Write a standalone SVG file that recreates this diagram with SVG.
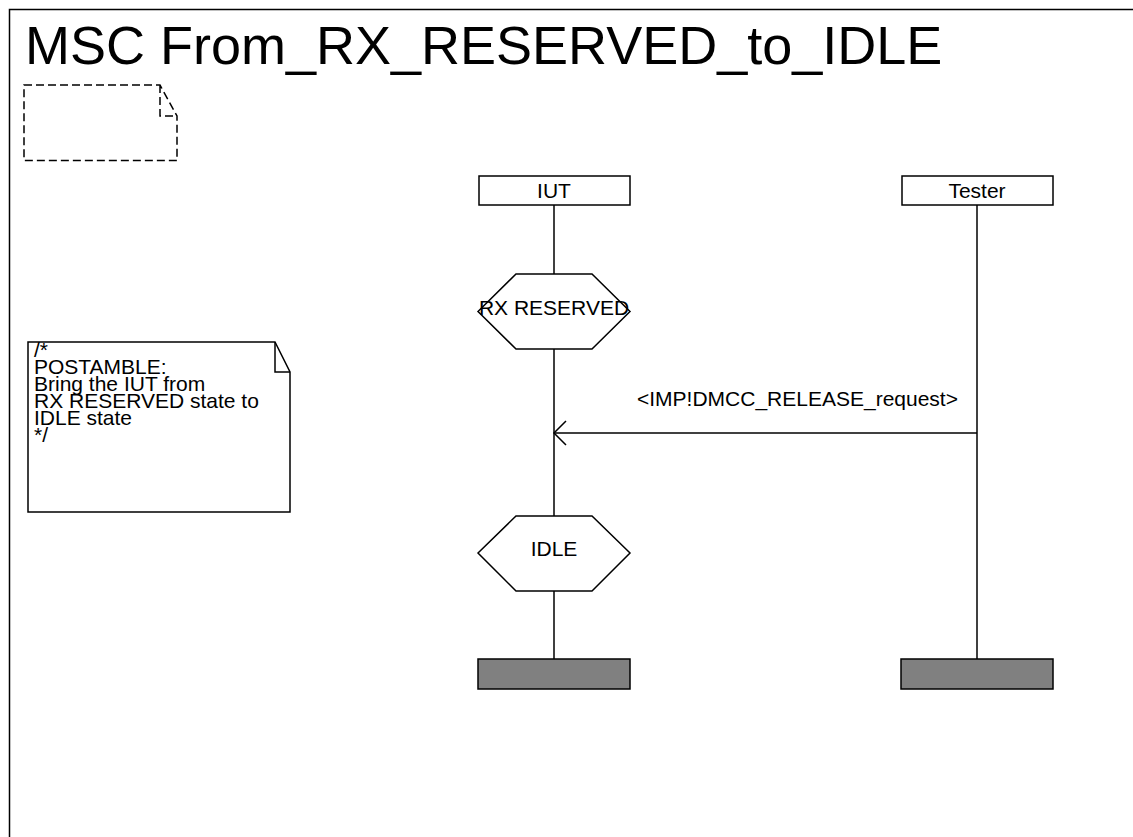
<svg xmlns="http://www.w3.org/2000/svg" width="1133" height="837" viewBox="0 0 1133 837">
<style>
.ln{fill:none;stroke:#000;stroke-width:1.5}
.bx{fill:#fff;stroke:#000;stroke-width:1.5}
.end{fill:#808080;stroke:#000;stroke-width:1.5}
.t{font-family:"Liberation Sans",Arial,sans-serif;font-size:21px;fill:#000}
.c{text-anchor:middle}
</style>
<rect width="1133" height="837" fill="#fff"/>
<g id="frame">
<rect class="ln" x="9.5" y="9.5" width="1140" height="850"/>
<text x="25" y="64" class="t" style="font-size:54px">MSC From_RX_RESERVED_to_IDLE</text>
</g>
<g id="doc">
<path class="ln" stroke-dasharray="8 4" d="M24,85 H160 L177,116 V160.5 H24 Z M160,85 V116 H177"/>
</g>
<g id="connectors">
<line class="ln" x1="554" y1="205" x2="554" y2="659"/>
<line class="ln" x1="977" y1="205" x2="977" y2="659"/>
<line class="ln" x1="977" y1="433" x2="554" y2="433"/>
<path class="ln" d="M566,421 L554,433 L566,445"/>
<text x="637" y="406" class="t">&lt;IMP!DMCC_RELEASE_request&gt;</text>
</g>
<g id="IUT">
<rect class="bx" x="479" y="176" width="151" height="29"/>
<text x="554" y="198" class="t c">IUT</text>
</g>
<g id="Tester">
<rect class="bx" x="902" y="176" width="151" height="29"/>
<text x="977" y="198" class="t c">Tester</text>
</g>
<g id="state_rx_reserved">
<polygon class="bx" points="478,311.5 516,274 592,274 630,311.5 592,349 516,349"/>
<text x="554" y="315" class="t c">RX RESERVED</text>
</g>
<g id="state_idle">
<polygon class="bx" points="478,553 516,516 592,516 630,553 592,591 516,591"/>
<text x="554" y="556" class="t c">IDLE</text>
</g>
<g id="end_iut">
<rect class="end" x="478" y="659" width="152" height="30"/>
</g>
<g id="end_tester">
<rect class="end" x="901" y="659" width="152" height="30"/>
</g>
<g id="comment">
<path class="bx" d="M28,342 H275 L290,372 V512 H28 Z"/>
<path class="ln" d="M275,342 V372 H290"/>
<text class="t">
<tspan x="34" y="357">/*</tspan>
<tspan x="34" y="374">POSTAMBLE:</tspan>
<tspan x="34" y="391">Bring the IUT from</tspan>
<tspan x="34" y="408">RX RESERVED state to</tspan>
<tspan x="34" y="425">IDLE state</tspan>
<tspan x="34" y="442">*/</tspan>
</text>
</g>
</svg>
